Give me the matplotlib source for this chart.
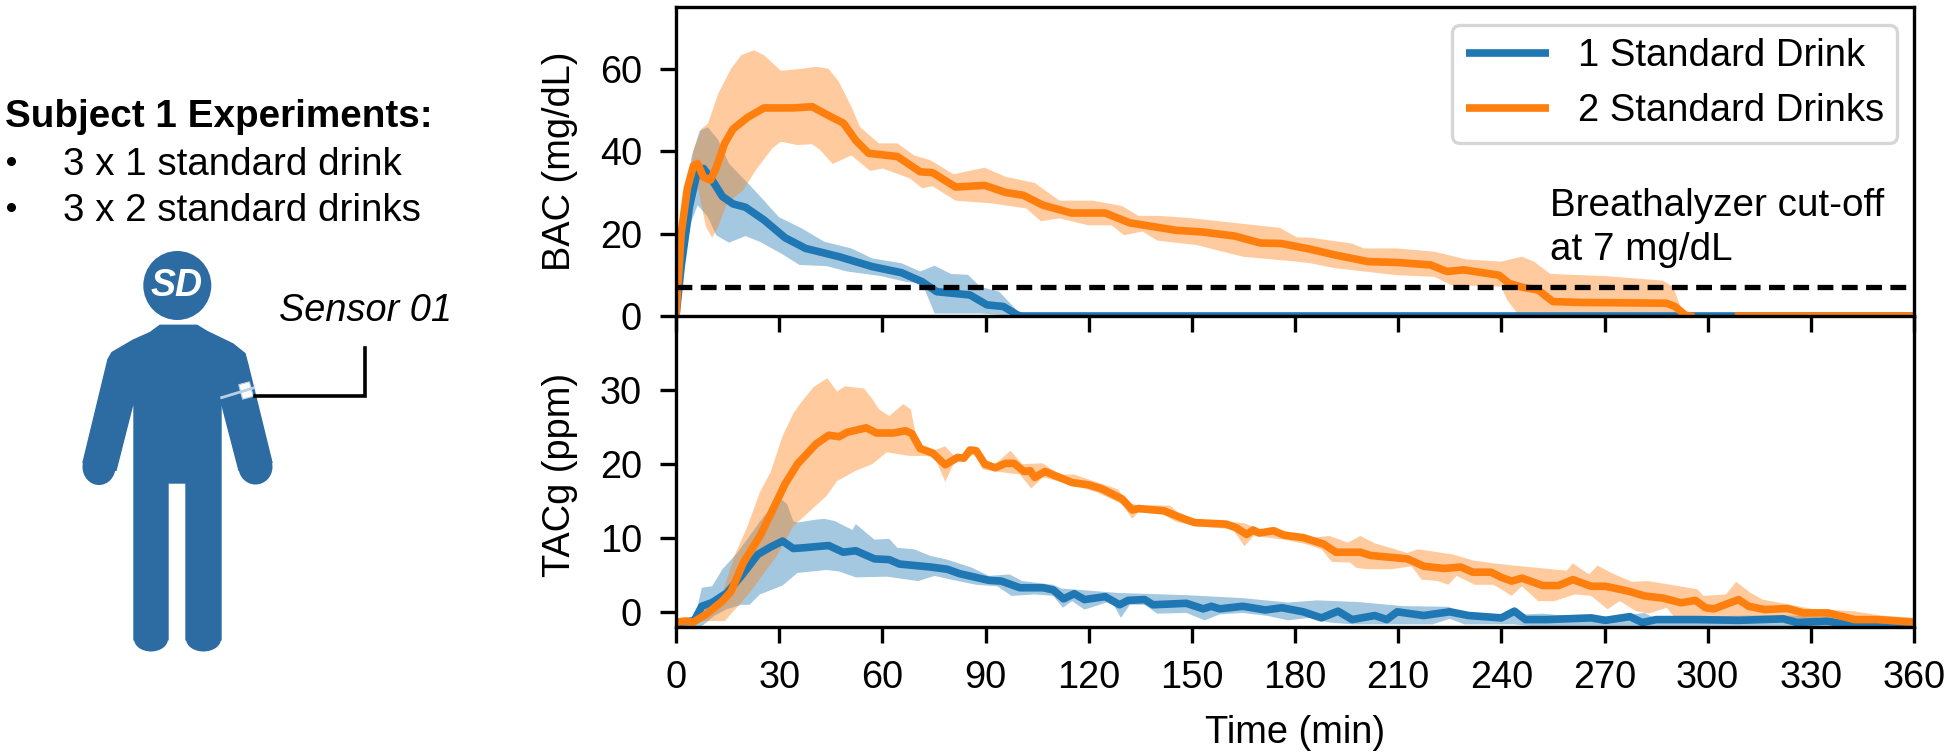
import numpy as np
import matplotlib
matplotlib.use('Agg')
import matplotlib.pyplot as plt
from matplotlib.patches import Polygon, Ellipse, Rectangle
from matplotlib.transforms import Affine2D

plt.rcParams['font.family'] = ['Liberation Sans', 'DejaVu Sans']

time_ticks = list(range(0, 361, 30))
bac_ticks = [0, 20, 40, 60]
tac_ticks = [0, 10, 20, 30]
cutoff = 7

# BAC, 1 standard drink
bac1_t = [0, 1.5, 3.9, 6.3, 8, 10.5, 13.5, 16.6, 20.2, 25.6, 31.7, 37.7, 47.4, 57, 65.6, 71.6, 75.8, 85.5, 90.4, 95.2, 99.4, 100.5, 360]
bac1_y = [0, 12, 26.5, 35.4, 35.8, 33, 29, 27.2, 26.4, 23.3, 19, 16.4, 14.4, 12, 10.5, 8.3, 5.9, 5.1, 2.7, 2.3, 0.2, 0, 0]
bac1_up_t = [0, 2, 4.5, 6.9, 9.3, 12.3, 15.4, 21.4, 25.6, 29.9, 36.5, 43.2, 51, 57, 65.6, 71, 75.2, 80, 84.9, 88.5, 94, 100, 101, 360]
bac1_up = [0, 21.7, 38.6, 45, 45.8, 42.7, 37, 31.8, 28, 24, 21.3, 18, 16.4, 14, 12.8, 10.8, 12.2, 10.2, 10, 7.1, 5.9, 0.6, 0, 0]
bac1_lo_t = [0, 1.5, 3.9, 6.3, 9.3, 11.7, 15.4, 20.2, 24.4, 30.5, 35.9, 43.8, 49.8, 59.5, 66.8, 71.6, 75.2, 88.5, 99.4, 360]
bac1_lo = [0, 8, 21.7, 26.9, 24, 19.6, 17.8, 19.4, 18, 15.2, 12.4, 12.1, 10.8, 9.7, 8.3, 7.9, 0.6, 0.6, 0, 0]

# BAC, 2 standard drinks (nan: the blue line shows through there)
bac2_t = [0, 1.5, 3.3, 5.1, 6.3, 8, 10, 11.7, 14.1, 16.6, 20.8, 25.6, 34, 39.6, 43.8, 48.7, 52.3, 56, 64.4, 71, 74.6, 81.3, 89.8, 95.8, 101, 106.7, 115, 124.8, 132, 145.4, 153, 162.5, 170, 176, 184.5, 191.7, 201.3, 209.7, 219.4, 224.2, 229, 239.3, 242.3, 246, 250.7, 255, 262.8, 288, 290.5, 293.5, 295, 296, 309, 360]
bac2_y = [0, 20, 31, 36.5, 37, 33.7, 33, 36, 41.8, 45.4, 48.2, 50.5, 50.5, 50.8, 48.9, 46.8, 42.6, 39.5, 38.7, 35, 34.8, 31.3, 31.7, 30, 29.3, 26.9, 25, 25, 22.6, 20.8, 20.4, 19.4, 17.7, 17.6, 16.2, 14.8, 13.2, 13, 12.4, 10.8, 11.2, 9.9, 7.9, 7, 6.3, 3.5, 3.3, 3.1, 2.3, 0.2, 0, np.nan, 0, 0]
bac2_up_t = [0, 3.3, 5, 7.5, 9.3, 12.3, 16, 19, 22.6, 25.6, 30.5, 36.5, 40.8, 44.4, 47.4, 51, 53.5, 59, 64.4, 69.2, 74, 80.7, 89.8, 95.8, 104.3, 111.5, 121.2, 129.7, 134.5, 140.6, 149, 162.3, 175.6, 180.5, 184.5, 196.5, 200, 209.7, 220.6, 230, 239.9, 246, 249.5, 254.3, 270, 286.9, 289.9, 292.9, 295.9, 302.5, 307.3, 360]
bac2_up = [0, 28, 40, 45.5, 46.7, 54, 60, 63.3, 64.5, 63.3, 59.5, 60, 60.5, 60, 56.8, 50.8, 45.9, 41.9, 41.9, 39, 37.8, 34.4, 36, 33.8, 32.3, 28, 28, 26.7, 24.3, 24.3, 23.8, 22.6, 21.4, 19.1, 19, 17.6, 16.4, 16.4, 15.6, 13.7, 13.2, 14.4, 13.2, 10.2, 9.7, 8.6, 7.1, 0.6, 0, 0.8, 0, 0]
bac2_lo_t = [0, 1.5, 3.9, 6.3, 8.7, 10.5, 12.3, 14.8, 19.6, 23.2, 28, 30.5, 35.3, 39.6, 41.9, 45.6, 51, 56.5, 60.1, 68, 71.6, 74.6, 81.3, 92.2, 101.9, 106.1, 111.5, 120, 126.7, 130.3, 135.7, 140, 151.5, 164.8, 180.5, 184.5, 191.7, 209.7, 220.6, 225.4, 239.9, 241.7, 244.7, 291.7, 295, 360]
bac2_lo = [0, 15, 29, 31.4, 21.7, 19, 21.7, 27.3, 30.6, 35.4, 40.7, 42.3, 41.5, 41.7, 40.3, 36.9, 39, 35.2, 35.8, 33.4, 31, 31.5, 28, 27.3, 26.1, 23, 23.7, 22, 22, 19.6, 20.5, 18.3, 17.2, 14.4, 13.2, 12.8, 11.6, 9.9, 9.5, 7.5, 7.1, 3.9, 0.6, 0.6, 0, 0]

# TACg, 1 standard drink
tac1_t = [0, 5, 5.7, 7.5, 10.5, 14.8, 19, 23.8, 27.5, 31, 34.1, 37.1, 44.4, 48.6, 52.3, 57.7, 62, 65, 74, 78.9, 82.5, 91, 94.6, 100, 106.7, 109.7, 112.7, 115.8, 118.8, 124.8, 129, 131.5, 136.3, 138.7, 148.4, 153.3, 155.7, 158.1, 164.8, 171.4, 176.2, 182.4, 187.7, 192.5, 196.6, 203.2, 206.7, 209.7, 217.4, 225, 230.5, 240, 243.8, 247, 253, 266.1, 270.3, 277.4, 281, 285, 297, 309, 322, 326, 334.7, 340.6, 345, 360]
tac1_y = [-1.4, -1.2, -0.8, 0.8, 1.3, 2.6, 4.9, 7.8, 8.8, 9.6, 8.6, 8.7, 9, 8.1, 8.3, 7.2, 7.1, 6.5, 6.1, 5.8, 5.2, 4.3, 4.2, 3.3, 3.3, 3, 1.8, 2.5, 1.7, 2.1, 1, 1.6, 1.7, 1, 1.2, 0.45, 0.8, 0.45, 0.8, 0.3, 0.6, 0.05, -0.77, 0.14, -1, -0.45, -1, 0.05, -0.45, 0.05, -0.45, -0.77, 0.14, -1, -1, -0.77, -1.1, -0.6, -1.4, -1, -1, -1.1, -0.9, -1.4, -1.2, -1.65, -1.9, -2]
tac1_up_t = [0, 5.7, 7.5, 10.5, 13.5, 17.8, 21.4, 25.6, 30.5, 32.3, 34.1, 35.3, 40.7, 43.2, 46.2, 51.3, 52.3, 57.7, 62, 64.4, 69.2, 74, 78.9, 86.1, 91, 97, 100.7, 109.7, 112.1, 128.5, 148.4, 164.8, 178, 186.5, 198.4, 211.5, 224.6, 229.3, 240, 243.8, 247, 252, 261.4, 273.3, 281.6, 284.6, 297, 312.5, 329, 335, 347, 360]
tac1_up = [-1.2, -0.5, 3.3, 3.5, 5.8, 8, 10.3, 13, 15.3, 14.6, 12.3, 12.1, 12.5, 12.6, 12.3, 11.1, 11.9, 9.8, 9.9, 8.7, 8.5, 7.6, 7.1, 6, 4.9, 5.1, 4.2, 3.7, 3.2, 2.6, 2.3, 1.9, 1.3, 1.6, 1.37, 0.82, 0.73, -0.1, -0.3, 0.35, -0.3, -0.2, -0.6, -0.6, -0.1, -0.8, -0.6, -0.45, -0.45, -1, -1.65, -1.9]
tac1_lo_t = [0, 7.5, 11.1, 14.8, 19, 21.4, 24.4, 31, 35.3, 43.8, 47.4, 52.3, 61.3, 70.4, 75.2, 80, 87.3, 93.4, 97.6, 104.3, 109.7, 112.5, 115.2, 118.8, 126.6, 129.4, 132, 136.3, 139.9, 148.4, 153.8, 158.1, 164.8, 172, 178, 184, 190, 197, 220, 225, 229.3, 243.6, 249.5, 360]
tac1_lo = [-1.9, -1.9, -0.5, 0.4, 1, 1, 2.4, 3.6, 5.3, 5.7, 5.5, 4.7, 4.8, 4.2, 4.9, 4.4, 3.7, 3.5, 2.2, 2.4, 2.2, 0.6, 1.5, 0.35, 1.5, -0.77, 1, 1, -0.2, -0.1, -1.1, -0.3, -0.1, -0.5, -1.1, -0.77, -1.4, -1.65, -1.65, -0.9, -1.65, -1.65, -1.9, -2]

# TACg, 2 standard drinks
tac2_t = [0, 2.6, 5, 8.7, 13.5, 16, 19.6, 24.4, 28, 31.7, 35.3, 40.7, 44.4, 47.4, 49.8, 55.3, 58.3, 63.1, 66.8, 68.6, 71, 74.6, 78.3, 81.9, 83.7, 85.5, 87.3, 89.8, 92.8, 95.8, 98.3, 101.2, 103, 104.3, 107.3, 111.5, 115.2, 120, 123.6, 129.7, 132.7, 134.5, 141.8, 147.8, 150.8, 159.9, 162.9, 165.9, 167.8, 169.6, 173.8, 176.8, 182.4, 188.3, 191.9, 199, 202, 212.7, 217.5, 223.4, 228.2, 231.7, 237, 240, 243, 246, 252, 256.6, 260.8, 266.1, 270.3, 276.8, 281.6, 287, 292.3, 296.4, 299.4, 301.8, 309, 311.9, 316.6, 323.2, 327.9, 335, 342.8, 349.4, 360]
tac2_y = [-1.35, -1.2, -1.35, -0.3, 1.5, 2.8, 6.7, 10.3, 13.7, 17.3, 20, 22.7, 23.9, 23.7, 24.3, 24.9, 24.2, 24.2, 24.5, 24.1, 22.1, 21.5, 19.9, 20.9, 20.8, 21.9, 21.8, 20, 19.5, 20.1, 20.1, 19, 19.1, 18.2, 19, 18.2, 17.5, 17.2, 16.7, 15.3, 13.8, 14, 13.7, 12.6, 12.1, 11.9, 11.4, 10.5, 11.1, 10.7, 11, 10.4, 10.07, 9.2, 8.1, 8.1, 7.66, 7.2, 6.2, 5.9, 6.1, 5.4, 5.4, 4.7, 4.2, 4.6, 3.6, 3.6, 4.4, 3.5, 3.5, 2.85, 2.2, 1.9, 1.27, 1.6, 0.6, 0.45, 1.7, 0.8, 0.35, 0.5, -0.1, -0.1, -1, -1, -1.35]
tac2_up_t = [0, 8.7, 13.5, 17, 20.8, 24.4, 27.5, 31, 34.1, 36, 40, 44, 46.8, 49.2, 54.7, 57.1, 59, 62, 66.1, 68.3, 69.8, 71, 74.6, 78.3, 80.7, 83.7, 85.5, 88, 90.4, 92.8, 97.3, 100.7, 106.7, 111.5, 115.7, 128.5, 131.5, 134.5, 143.6, 147.2, 151.4, 159.9, 165.3, 169.6, 176.8, 181.6, 185.3, 190, 195.4, 199, 203.2, 212.7, 215.7, 225.8, 231.7, 237.6, 243.6, 259, 260.8, 265.5, 268, 272, 278, 282.8, 297, 298.8, 305.3, 308.3, 312.5, 316, 330.3, 342.2, 350.5, 360]
tac2_up = [-1.35, -0.5, 2.6, 7.6, 11.6, 16.2, 18.9, 23.8, 26.8, 28.1, 30.4, 31.6, 29.8, 30.5, 30.2, 28.8, 27.4, 26.5, 28.1, 27.4, 23.8, 22.1, 21.8, 22.4, 21.2, 21.1, 22.3, 21.6, 20.5, 20, 21.8, 20, 20.1, 18.6, 18.6, 16.6, 14.8, 14.4, 14.4, 13, 12.5, 12.3, 12, 11.2, 11, 10.4, 10.07, 10.3, 9.4, 10.3, 9.3, 8, 8.5, 7.8, 7, 6.6, 6.3, 5.6, 6.6, 5.1, 6.3, 5.3, 4.1, 4.2, 3.1, 2.2, 2.4, 4.1, 2.6, 1.7, 0.45, 0.14, -0.45, -0.77]
tac2_lo_t = [0, 7.5, 14.2, 21.4, 29.3, 34.1, 43.8, 46.8, 52.3, 57.1, 61.3, 68, 72.8, 75.2, 78.3, 80.7, 87.3, 89.1, 94.6, 100, 103.3, 106.7, 114.5, 122.3, 129.7, 132.7, 134.5, 141.8, 145.4, 151.4, 161.9, 165.3, 168, 176.8, 183, 187.7, 190.7, 196, 197.8, 200.8, 207.9, 213.9, 216.8, 221.6, 224.6, 227, 232.3, 237.6, 240, 243, 246, 250.7, 255.4, 261.4, 266.1, 270.9, 274.4, 279.2, 282.8, 288.1, 290.5, 301.8, 309, 313, 327.9, 337.4, 349.3, 360]
tac2_lo = [-1.45, -1.2, -1.2, 2.6, 7.6, 11.6, 15.7, 17.7, 19.1, 20, 21.6, 21.1, 21.1, 20.9, 17.6, 20, 21.4, 19.3, 18.9, 18.6, 16.7, 18.2, 17.3, 16.2, 14.6, 12.6, 13.5, 13.2, 12.2, 11.6, 11.2, 8.9, 10.3, 9.8, 9.2, 8.5, 6.8, 6.7, 6, 5.8, 5.8, 6.2, 4.4, 4.2, 3.7, 4.9, 3.7, 3.7, 3.1, 2.2, 3.5, 1.5, 1.5, 2.4, 2.2, 0.4, 1.5, 0.14, -0.2, 0.6, -0.77, -0.6, -0.6, -0.5, -1, -1.65, -1.8, -1.8]

C_BLUE = '#1f77b4'
C_ORANGE = '#ff7f0e'
C_BODY = '#2d6ba3'
W, H = 1950, 756


def draw_band(ax, t_up, up, t_lo, lo, color):
    ax.fill(np.r_[t_up, t_lo[::-1]], np.r_[up, lo[::-1]], color=color, alpha=0.4, lw=0)


fig = plt.figure(figsize=(W / 100, H / 100), dpi=100)
ax_top = fig.add_axes([676 / W, 1 - 316 / H, 1238 / W, 309 / H])
ax_bot = fig.add_axes([676 / W, 1 - 627 / H, 1238 / W, 311 / H])
# ticks of the top panel hang into the bottom one
ax_top.set_zorder(2)
ax_top.patch.set_alpha(0)

draw_band(ax_top, bac1_up_t, bac1_up, bac1_lo_t, bac1_lo, C_BLUE)
draw_band(ax_top, bac2_up_t, bac2_up, bac2_lo_t, bac2_lo, C_ORANGE)
ax_top.plot(bac1_t, bac1_y, color=C_BLUE, lw=5.5, label='1 Standard Drink')
ax_top.plot(bac2_t, bac2_y, color=C_ORANGE, lw=5.5, label='2 Standard Drinks')
ax_top.axhline(cutoff, color='k', lw=3.8, dashes=(3, 1.6), zorder=5)
ax_top.text(1550 / W, 1 - 260 / H, 'Breathalyzer cut-off\nat 7 mg/dL', transform=fig.transFigure,
            fontsize=27.8, linespacing=1.27, va='baseline', ha='left')

draw_band(ax_bot, tac1_up_t, tac1_up, tac1_lo_t, tac1_lo, C_BLUE)
draw_band(ax_bot, tac2_up_t, tac2_up, tac2_lo_t, tac2_lo, C_ORANGE)
ax_bot.plot(tac1_t, tac1_y, color=C_BLUE, lw=5.5)
ax_bot.plot(tac2_t, tac2_y, color=C_ORANGE, lw=5.5)

ax_top.set_ylim(0, 75)
ax_bot.set_ylim(-2, 40)
ax_top.set_yticks(bac_ticks)
ax_bot.set_yticks(tac_ticks)
ax_top.set_ylabel('BAC (mg/dL)', fontsize=27.4)
ax_bot.set_ylabel('TACg (ppm)', fontsize=27.4)
ax_bot.set_xlabel('Time (min)', fontsize=27.4, labelpad=14)
for ax in (ax_top, ax_bot):
    ax.set_xlim(0, 360)
    ax.set_xticks(time_ticks)
    ax.tick_params(length=11.5, width=2.4, labelsize=27.4)
    ax.tick_params(axis='y', pad=13)
    ax.tick_params(axis='x', pad=12)
    ax.yaxis.set_label_coords(-0.079, 0.5)
    for s in ax.spines.values():
        s.set_linewidth(2.4)
ax_bot.yaxis.set_label_coords(-0.079, 0.49)
ax_top.tick_params(labelbottom=False)
ax_bot.spines['top'].set_visible(False)

leg = ax_top.legend(loc='upper right', bbox_to_anchor=(1897 / W, 1 - 25 / H), bbox_transform=fig.transFigure,
                    fontsize=27.5, handlelength=2.18, handletextpad=0.75, labelspacing=0.5,
                    borderaxespad=0, borderpad=0.35, edgecolor='0.8')
leg.get_frame().set_linewidth(2.4)
for h in leg.get_lines():
    h.set_solid_capstyle('butt')

# left panel, drawn in figure pixels
ov = fig.add_axes([0, 0, 1, 1], facecolor='none')
ov.set_xlim(0, W)
ov.set_ylim(H, 0)
ov.axis('off')
ov.text(5, 127, 'Subject 1 Experiments:', fontsize=27.8, fontweight='bold', va='baseline')
ov.text(63, 175, '3 x 1 standard drink', fontsize=27.7, va='baseline')
ov.text(63, 221, '3 x 2 standard drinks', fontsize=27.7, va='baseline')
ov.plot([11, 11], [161, 207], 'o', color='k', ms=6.5, mew=0)
ov.text(279, 321, 'Sensor 01', fontsize=27.3, style='italic', va='baseline')

body = [(160, 325.3), (197, 325.3), (207, 331.4), (233, 344), (245, 353.6), (248, 365), (272, 462.7),
        (239, 470.4), (223, 409), (221, 397.6),
        (221, 640), (186, 640), (186, 483), (168, 483),
        (168, 640), (134, 640), (134, 399.6), (116, 470.4),
        (83, 462.7), (108, 359.4), (112, 352.5), (133, 340.2), (150, 332.6)]
ov.add_patch(Polygon(body, closed=True, fc=C_BODY, ec=C_BODY, lw=1, joinstyle='round'))
ov.add_patch(Ellipse((177.3, 285.5), 68, 69, fc=C_BODY, ec='none'))
# rounded hands and feet
for cx, cy, w, h in [(255.5, 467, 34, 35), (99, 467, 33, 36), (203.5, 639, 35, 25), (151, 639, 34, 25)]:
    ov.add_patch(Ellipse((cx, cy), w, h, fc=C_BODY, ec='none'))
ov.text(177, 286, 'SD', color='w', fontsize=27, fontweight='bold', style='italic', ha='center', va='center')
ov.plot([221.7, 253.3], [397.6, 388], color='#b9d0e4', lw=2)
ov.add_patch(Rectangle((240.5, 383), 11, 15, fc='w', ec='#b9d0e4', lw=0.8,
                       transform=Affine2D().rotate_deg_around(246, 390.5, -15) + ov.transData))
ov.plot([255, 365, 365], [395.7, 395.7, 348], color='k', lw=2.6, solid_joinstyle='miter')

fig.savefig('out.png', dpi=100)
